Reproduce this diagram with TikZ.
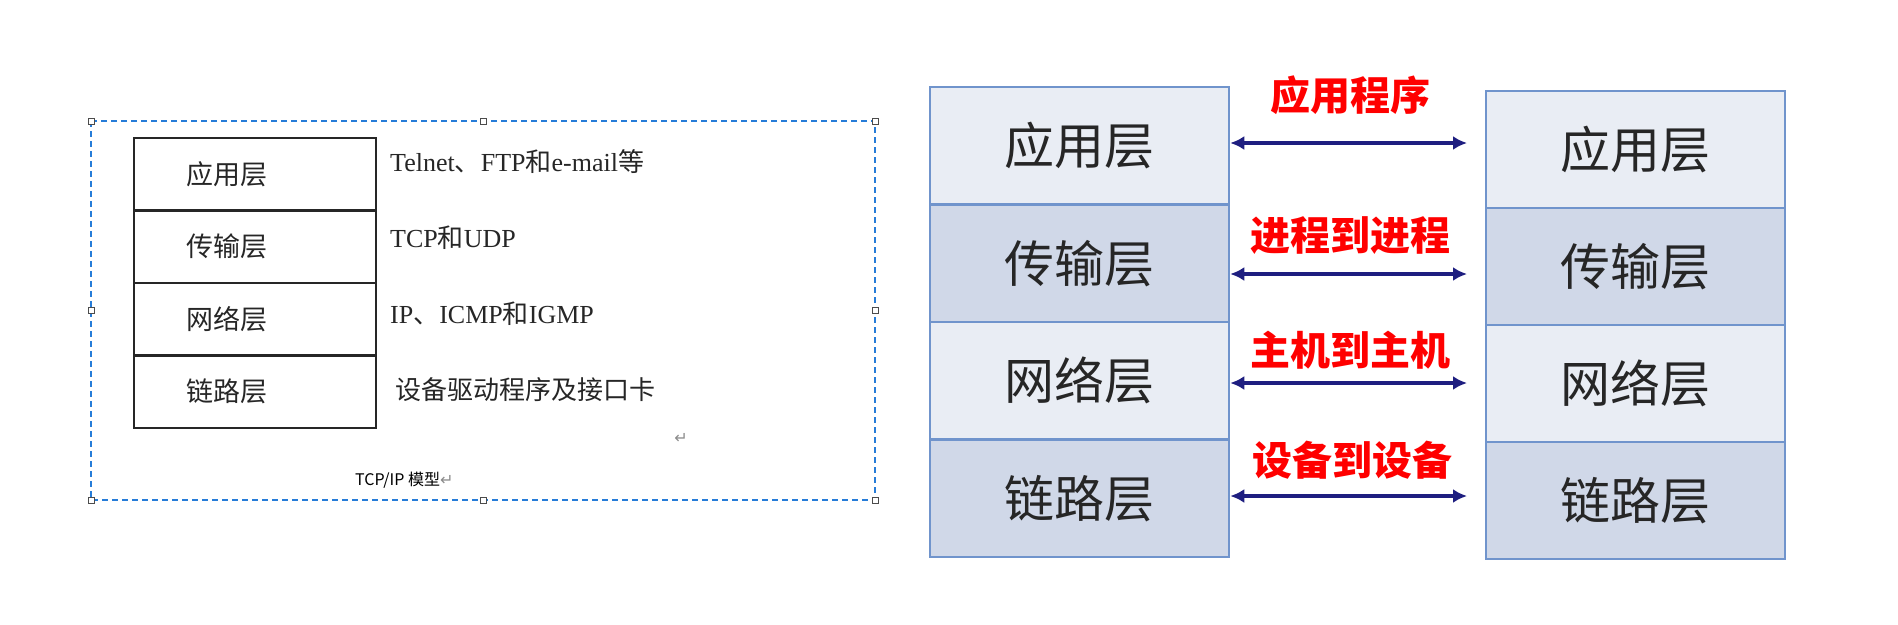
\documentclass[tikz,border=0pt]{standalone}
\usepackage{fontspec}
\setmainfont{Liberation Serif}
\newfontfamily\cjk{Noto Sans CJK SC}
\newfontfamily\markfont{DejaVu Sans}
\usetikzlibrary{arrows.meta}
\definecolor{selblue}{RGB}{38,124,216}
\definecolor{layerline}{RGB}{112,148,204}
\definecolor{layerlight}{RGB}{233,237,244}
\definecolor{layerdark}{RGB}{208,216,232}
\definecolor{peerarrow}{RGB}{30,30,128}
\definecolor{parmark}{RGB}{140,140,140}

\begin{document}
\begin{tikzpicture}[x=1pt,y=-1pt,
  handle/.style={draw=black!70,fill=white,line width=1pt,minimum size=6pt,inner sep=0pt},
  stackrow/.style={draw=black!85,line width=2.5pt,minimum width=242pt,minimum height=72.5pt,
    text width=138pt,inner xsep=52pt,align=left,font=\cjk\fontsize{27}{30}\selectfont,text=black!85},
  proto/.style={anchor=west,inner sep=0pt,font=\fontsize{26}{30}\selectfont,text=black!85},
  layer/.style={draw=layerline,line width=2.5pt,minimum width=299pt,
    font=\cjk\fontsize{50}{60}\selectfont,text=black!85},
  peer/.style={red,font=\cjk\bfseries\fontsize{40}{48}\selectfont},
  link/.style={peerarrow,line width=4pt,{Latex[length=14pt,width=14pt]}-{Latex[length=14pt,width=14pt]}}]
\useasboundingbox (0,0) rectangle (1898,624);

% Selected frame (left)
\draw[selblue,line width=1.5pt,dash pattern=on 6pt off 4pt] (91,121) rectangle (875,500);
\foreach \hx/\hy [count=\i] in {91/121,483/121,875/121,91/310.5,875/310.5,91/500,483/500,875/500}
  \node[handle] (h\i) at (\hx,\hy) {};

% TCP/IP stack (left)
\node[stackrow] (sapp) at (255,174.25) {应用层};
\node[stackrow] (stra) at (255,246.75) {传输层};
\node[stackrow] (snet) at (255,319.25) {网络层};
\node[stackrow] (slnk) at (255,391.75) {链路层};
\node[proto] (papp) at (390,162) {Telnet{\cjk 、}FTP{\cjk 和}e-mail{\cjk 等}};
\node[proto] (ptra) at (390,238) {TCP{\cjk 和}UDP};
\node[proto] (pnet) at (390,314) {IP{\cjk 、}ICMP{\cjk 和}IGMP};
\node[proto,font=\cjk\fontsize{26}{30}\selectfont] (plnk) at (395,390) {设备驱动程序及接口卡};
\node[parmark,font=\markfont\fontsize{16}{18}\selectfont] (pmark) at (681,438) {↵};
\node[anchor=west,inner sep=0pt,font=\cjk\fontsize{16}{18}\selectfont] (cap) at (355,480)
  {TCP/IP 模型{\markfont\color{parmark}↵}};

% Host A layers
\node[layer,fill=layerlight,minimum height=117.5pt] (lapp) at (1079.5,145.75) {应用层};
\node[layer,fill=layerdark,minimum height=117.5pt] (ltra) at (1079.5,263.25) {传输层};
\node[layer,fill=layerlight,minimum height=117.5pt] (lnet) at (1079.5,380.75) {网络层};
\node[layer,fill=layerdark,minimum height=117.5pt] (llnk) at (1079.5,498.25) {链路层};

% Host B layers
\node[layer,fill=layerlight,minimum height=117pt] (rapp) at (1635.5,149.5) {应用层};
\node[layer,fill=layerdark,minimum height=117pt] (rtra) at (1635.5,266.5) {传输层};
\node[layer,fill=layerlight,minimum height=117pt] (rnet) at (1635.5,383.5) {网络层};
\node[layer,fill=layerdark,minimum height=117pt] (rlnk) at (1635.5,500.5) {链路层};

% Peer arrows
\coordinate (e1) at (1467,143);
\coordinate (e2) at (1467,274);
\coordinate (e3) at (1467,383);
\coordinate (e4) at (1467,496);
\draw[link] (lapp.east |- e1) -- (e1);
\draw[link] (ltra.east |- e2) -- (e2);
\draw[link] (lnet.east |- e3) -- (e3);
\draw[link] (llnk.east |- e4) -- (e4);
\node[peer] (t1) at (1350,95) {应用程序};
\node[peer] (t2) at (1350,236) {进程到进程};
\node[peer] (t3) at (1350,350) {主机到主机};
\node[peer] (t4) at (1352,460) {设备到设备};

\end{tikzpicture}
\end{document}
